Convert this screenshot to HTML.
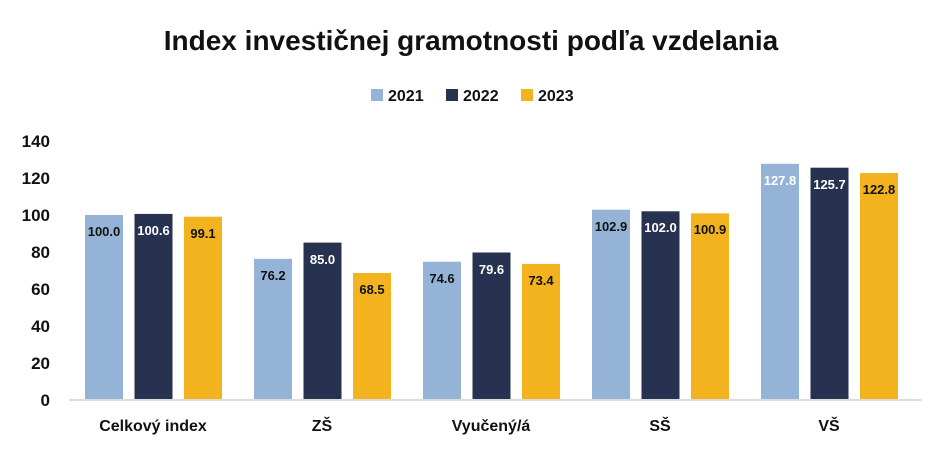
<!DOCTYPE html><html><head><style>body{margin:0;background:#fff;}svg{display:block;font-family:"Liberation Sans",sans-serif;}</style></head><body>
<svg width="942" height="455" xmlns="http://www.w3.org/2000/svg">
<rect width="942" height="455" fill="#fff"/>
<text x="471" y="50" text-anchor="middle" font-size="28" font-weight="bold" fill="#111">Index investičnej gramotnosti podľa vzdelania</text>
<g font-size="16" font-weight="bold" fill="#111">
<rect x="371" y="89" width="12" height="12" fill="#95B3D7"/><text x="388" y="101">2021</text>
<rect x="446" y="89" width="12" height="12" fill="#263250"/><text x="463" y="101">2022</text>
<rect x="521" y="89" width="12" height="12" fill="#F2B31E"/><text x="538" y="101">2023</text>
</g>
<g font-size="17" font-weight="bold" fill="#111" text-anchor="end">
<text x="50" y="406">0</text><text x="50" y="369">20</text><text x="50" y="332">40</text><text x="50" y="295">60</text><text x="50" y="258">80</text><text x="50" y="221">100</text><text x="50" y="184">120</text><text x="50" y="147">140</text>
</g>
<line x1="69" y1="400" x2="922" y2="400" stroke="#d0d0d0" stroke-width="1.5"/>
<g font-size="13" font-weight="bold" text-anchor="middle">
<rect x="85" y="215" width="38" height="184" fill="#95B3D7"/><text x="104" y="236" fill="#111">100.0</text>
<rect x="134.5" y="213.9" width="38" height="185.1" fill="#263250"/><text x="153.5" y="235" fill="#fff">100.6</text>
<rect x="184" y="216.7" width="38" height="182.3" fill="#F2B31E"/><text x="203" y="238" fill="#111">99.1</text>

<rect x="254" y="258.8" width="38" height="140.2" fill="#95B3D7"/><text x="273" y="280" fill="#111">76.2</text>
<rect x="303.5" y="242.6" width="38" height="156.4" fill="#263250"/><text x="322.5" y="264" fill="#fff">85.0</text>
<rect x="353" y="273" width="38" height="126" fill="#F2B31E"/><text x="372" y="294" fill="#111">68.5</text>

<rect x="423" y="261.7" width="38" height="137.3" fill="#95B3D7"/><text x="442" y="283" fill="#111">74.6</text>
<rect x="472.5" y="252.5" width="38" height="146.5" fill="#263250"/><text x="491.5" y="274" fill="#fff">79.6</text>
<rect x="522" y="263.9" width="38" height="135.1" fill="#F2B31E"/><text x="541" y="285" fill="#111">73.4</text>

<rect x="592" y="209.7" width="38" height="189.3" fill="#95B3D7"/><text x="611" y="231" fill="#111">102.9</text>
<rect x="641.5" y="211.3" width="38" height="187.7" fill="#263250"/><text x="660.5" y="232" fill="#fff">102.0</text>
<rect x="691" y="213.3" width="38" height="185.7" fill="#F2B31E"/><text x="710" y="234" fill="#111">100.9</text>

<rect x="761" y="163.8" width="38" height="235.2" fill="#95B3D7"/><text x="780" y="185" fill="#fff">127.8</text>
<rect x="810.5" y="167.7" width="38" height="231.3" fill="#263250"/><text x="829.5" y="189" fill="#fff">125.7</text>
<rect x="860" y="173" width="38" height="226" fill="#F2B31E"/><text x="879" y="194" fill="#111">122.8</text>
</g>
<g font-size="16" font-weight="bold" fill="#111" text-anchor="middle">
<text x="153" y="431">Celkový index</text><text x="322" y="431">ZŠ</text><text x="491" y="431">Vyučený/á</text><text x="660" y="431">SŠ</text><text x="829" y="431">VŠ</text>
</g>
</svg></body></html>
